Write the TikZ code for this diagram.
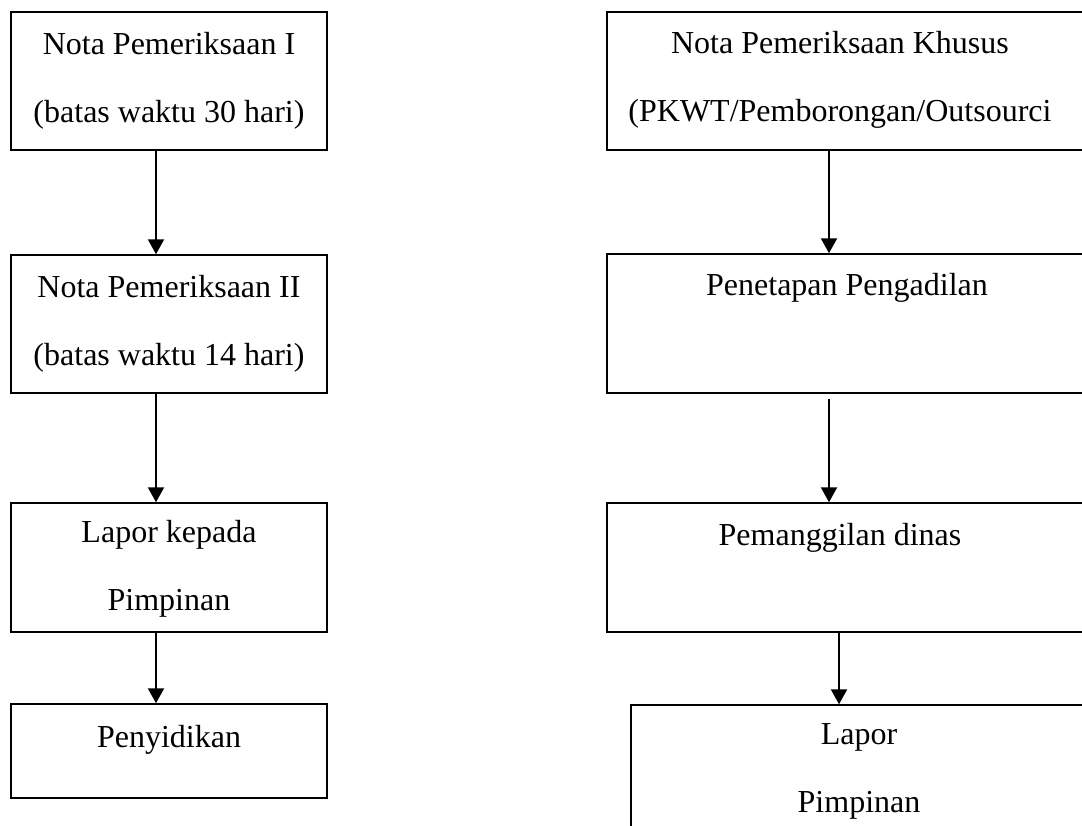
\documentclass[tikz,border=0pt]{standalone}
\usepackage{fontspec}
\setmainfont{Liberation Serif}
\usetikzlibrary{positioning, arrows.meta}

\begin{document}
\begin{tikzpicture}[
			x=0.5pt,
			y=-0.5pt,
			box/.style={
				draw=black,
				line width=0.75pt,
				rectangle,
				inner sep=0pt
			},
			txt/.style={
				anchor=base,
				align=center,
				inner sep=0pt,
				font=\fontsize{16}{34}\selectfont
			},
			flow/.style={
				-{Triangle[width=8pt,length=7.5pt]},
				line width=1.1pt
			}
			]
			\useasboundingbox (0,0) rectangle (1082,825);
			\clip (0,0) rectangle (1082,825);
			
			% Left column
			\node[box, minimum width=158pt, minimum height=69pt] (n1) at (169,81) {};
			\node[box, minimum width=158pt, minimum height=69pt] (n2) at (169,324) {};
			\node[box, minimum width=158pt, minimum height=64.5pt] (n3) at (169,567.5) {};
			\node[box, minimum width=158pt, minimum height=47pt] (n4) at (169,751) {};
			
			% base of a two-line text is its last line
			\node[txt] (tn1) at (169,122) {Nota Pemeriksaan I\\(batas waktu 30 hari)};
			\node[txt] (tn2) at (169,365) {Nota Pemeriksaan II\\(batas waktu 14 hari)};
			\node[txt] (tn3) at (169,610) {Lapor kepada\\Pimpinan};
			\node[txt] (tn4) at (169,747) {Penyidikan};
			
			% Right column
			\node[box, minimum width=246.5pt, minimum height=69pt] (k1) at (853.5,81) {};
			\node[box, minimum width=246.5pt, minimum height=69.5pt] (k2) at (853.5,323.5) {};
			\node[box, minimum width=246.5pt, minimum height=64.5pt] (k3) at (853.5,567.5) {};
			\node[box, minimum width=234.5pt, minimum height=77.5pt] (k4) at (865.5,782.5) {};
			
			\node[txt] (tk1) at (840,121) {Nota Pemeriksaan Khusus\\(PKWT/Pemborongan/Outsourci};
			\node[txt] (tk2) at (847,295) {Penetapan Pengadilan};
			\node[txt] (tk3) at (840,545) {Pemanggilan dinas};
			\node[txt] (tk4) at (859,812) {Lapor\\Pimpinan};
			
			% Arrows
			\draw[flow] (n1.south -| 156,0) -- (n2.north -| 156,0);
			\draw[flow] (n2.south -| 156,0) -- (n3.north -| 156,0);
			\draw[flow] (n3.south -| 156,0) -- (n4.north -| 156,0);
			\draw[flow] (k1.south -| 829,0) -- (k2.north -| 829,0);
			\draw[flow] ([yshift=-2.5pt]k2.south -| 829,0) -- (k3.north -| 829,0);
			\draw[flow] (k3.south -| 839,0) -- (k4.north -| 839,0);
		\end{tikzpicture}
\end{document}
